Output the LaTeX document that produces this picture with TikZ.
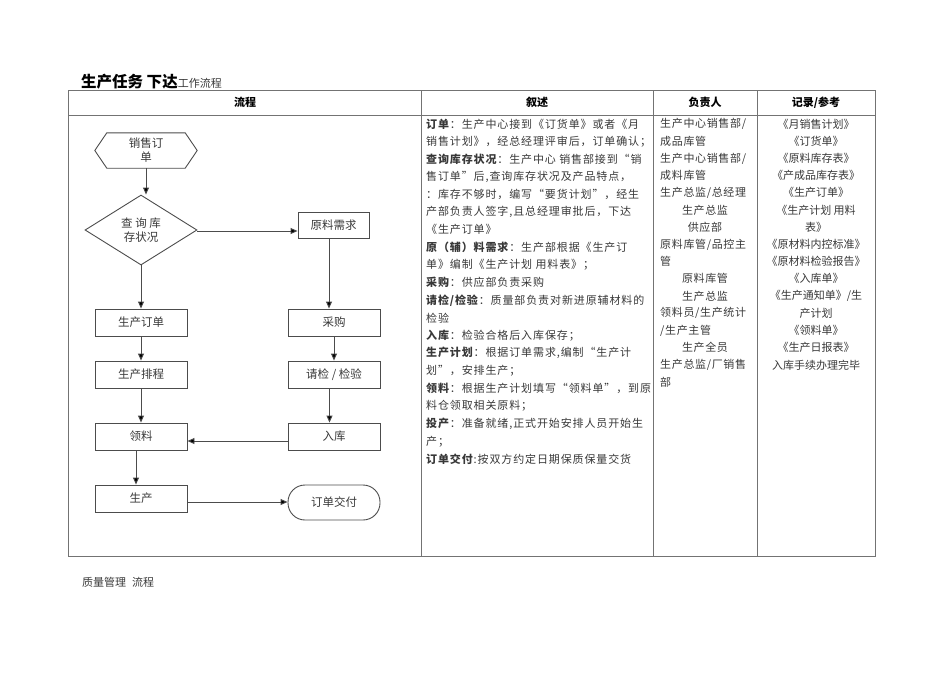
\documentclass[tikz,border=0pt]{standalone}
\usepackage{fontspec}
\setmainfont{Noto Sans CJK SC}
\newfontfamily\bodyfont[LetterSpace=8]{Noto Sans CJK SC}
\newfontfamily\colfont[LetterSpace=6]{Noto Sans CJK SC}
\usetikzlibrary{shapes.geometric,arrows.meta}
\definecolor{txt}{gray}{0.22}
\definecolor{rule}{gray}{0.45}
\definecolor{flow}{gray}{0.3}
\tikzset{
  fbox/.style={draw=flow,line width=0.9pt,minimum width=92pt,minimum height=27pt,inner sep=0pt,font=\fontsize{11.5}{13}\selectfont,text=txt},
  farrow/.style={draw=flow,line width=0.9pt,-{Triangle[length=7pt,width=6pt,fill=black]}},
  tline/.style={draw=rule,line width=0.8pt},
  hd/.style={font=\fontsize{11}{13}\selectfont\bfseries,text=black},
  c2/.style={anchor=west,inner sep=0pt,font=\bodyfont\fontsize{11}{13}\selectfont,text=txt},
  c3/.style={anchor=west,inner sep=0pt,font=\colfont\fontsize{11}{13}\selectfont,text=txt},
  c3c/.style={inner sep=0pt,font=\colfont\fontsize{11}{13}\selectfont,text=txt},
  c4/.style={inner sep=0pt,font=\fontsize{11}{13}\selectfont,text=txt},
}
\begin{document}
\begin{tikzpicture}[x=1pt,y=-1pt]
\useasboundingbox (0,0) rectangle (950,672);
% title
\node[anchor=base west,inner sep=0pt] (title) at (81,87)
  {{\fontsize{15.5}{17}\selectfont\bfseries 生产任务 下达}{\fontsize{11}{12}\selectfont\color{txt}工作流程}};
% table
\draw[tline] (68,90) rectangle (875,556);
\draw[tline] (68,115) -- (875,115);
\draw[tline] (421,90) -- (421,556);
\draw[tline] (653,90) -- (653,556);
\draw[tline] (757,90) -- (757,556);
\node[hd] (h1) at (245,102.5) {流程};
\node[hd] (h2) at (537,102.5) {叙述};
\node[hd] (h3) at (705,102.5) {负责人};
\node[hd] (h4) at (816,102.5) {记录/参考};
% column 2
\foreach \t [count=\i from 0] in {
 {\textbf{订单}：生产中心接到《订货单》或者《月},
 {销售计划》，经总经理评审后，订单确认；},
 {\textbf{查询库存状况}：生产中心 销售部接到“销},
 {售订单”后,查询库存状况及产品特点，},
 {：库存不够时，编写“要货计划”，经生},
 {产部负责人签字,且总经理审批后，下达},
 {《生产订单》},
 {\textbf{原（辅）料需求}：生产部根据《生产订},
 {单》编制《生产计划 用料表》；},
 {\textbf{采购}：供应部负责采购},
 {\textbf{请检/检验}：质量部负责对新进原辅材料的},
 {检验},
 {\textbf{入库}：检验合格后入库保存；},
 {\textbf{生产计划}：根据订单需求,编制“生产计},
 {划”，安排生产；},
 {\textbf{领料}：根据生产计划填写“领料单”，到原},
 {料仓领取相关原料；},
 {\textbf{投产}：准备就绪,正式开始安排人员开始生},
 {产；},
 {\textbf{订单交付}:按双方约定日期保质保量交货}}
 \node[c2] (d\i) at (426,124+17.63*\i) {\t};
% column 3
\node[c3] (r0) at (660,124) {生产中心销售部/};
\node[c3] (r1) at (660,124+17.2) {成品库管};
\node[c3] (r2) at (660,124+17.2*2) {生产中心销售部/};
\node[c3] (r3) at (660,124+17.2*3) {成料库管};
\node[c3] (r4) at (660,124+17.2*4) {生产总监/总经理};
\node[c3c] (r5) at (705,124+17.2*5) {生产总监};
\node[c3c] (r6) at (705,124+17.2*6) {供应部};
\node[c3] (r7) at (660,124+17.2*7) {原料库管/品控主};
\node[c3] (r8) at (660,124+17.2*8) {管};
\node[c3c] (r9) at (705,124+17.2*9) {原料库管};
\node[c3c] (r10) at (705,124+17.2*10) {生产总监};
\node[c3] (r11) at (660,124+17.2*11) {领料员/生产统计};
\node[c3] (r12) at (660,124+17.2*12) {/生产主管};
\node[c3c] (r13) at (705,124+17.2*13) {生产全员};
\node[c3] (r14) at (660,124+17.2*14) {生产总监/厂销售};
\node[c3] (r15) at (660,124+17.2*15) {部};
% column 4
\foreach \t [count=\i from 0] in {
 {《月销售计划》},{《订货单》},{《原料库存表》},{《产成品库存表》},{《生产订单》},
 {《生产计划 用料},{表》},{《原材料内控标准》},{《原材料检验报告》},{《入库单》},
 {《生产通知单》/生},{产计划},{《领料单》},{《生产日报表》},{入库手续办理完毕}}
 \node[c4] (k\i) at (816,124+17.2*\i) {\t};
% flowchart
\node[inner sep=0pt,minimum width=102pt,minimum height=35pt,align=center,font=\fontsize{11.5}{14}\selectfont,text=txt] (hex) at (146,150.5) {销售订\\单};
\draw[draw=flow,line width=0.9pt] (hex.west) -- ([xshift=12pt]hex.north west) -- ([xshift=-12pt]hex.north east) -- (hex.east) -- ([xshift=-12pt]hex.south east) -- ([xshift=12pt]hex.south west) -- cycle;
\node[diamond,draw=flow,line width=0.9pt,inner sep=0pt,minimum width=112pt,minimum height=70pt,aspect=1.6,align=center,font=\fontsize{11.5}{14}\selectfont,text=txt] (dia) at (141,230) {查 询 库\\存状况};
\node[fbox,minimum width=71pt,minimum height=26pt] (yl) at (333.5,225) {原料需求};
\node[fbox] (scdd) at (141,322.5) {生产订单};
\node[fbox] (cg) at (334,322.5) {采购};
\node[fbox] (scpc) at (141,374.5) {生产排程};
\node[fbox] (jy) at (334,374.5) {请检 / 检验};
\node[fbox] (ll) at (141,436.5) {领料};
\node[fbox] (rk) at (334,436.5) {入库};
\node[fbox] (sc) at (141,498.5) {生产};
\node[fbox,minimum height=35pt,rounded corners=17pt] (jf) at (334,502.5) {订单交付};
\draw[farrow] (hex.south) -- (hex.south |- dia.north);
\draw[farrow] ([yshift=-1pt]dia.east) -- ([yshift=-1pt]dia.east -| yl.west);
\draw[farrow] (dia.south) -- (scdd.north);
\draw[farrow] ([xshift=-4.5pt]yl.south) -- ([xshift=-4.5pt]yl.south |- cg.north);
\draw[farrow] (scdd.south) -- (scpc.north);
\draw[farrow] (cg.south) -- (jy.north);
\draw[farrow] (scpc.south) -- (ll.north);
\draw[farrow] ([xshift=-4.5pt]jy.south) -- ([xshift=-4.5pt]jy.south |- rk.north);
\draw[farrow] ([yshift=-4.5pt]rk.west) -- ([yshift=-4.5pt]rk.west -| ll.east);
\draw[farrow] ([xshift=-5pt]ll.south) -- ([xshift=-5pt]ll.south |- sc.north);
\draw[farrow] ([yshift=-3.5pt]sc.east) -- ([yshift=-3.5pt]sc.east -| jf.west);
% footer
\node[anchor=west,inner sep=0pt,font=\fontsize{11}{13}\selectfont,text=txt] (foot) at (82,582) {质量管理\hspace{6pt}流程};
\end{tikzpicture}
\end{document}
